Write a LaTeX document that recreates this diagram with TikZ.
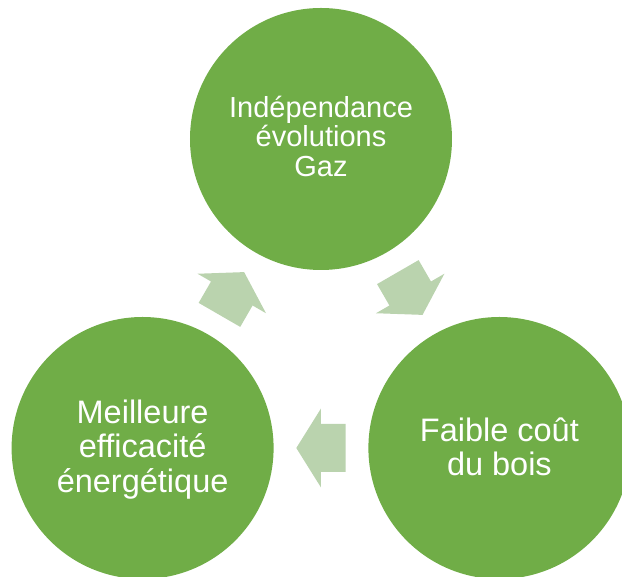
\documentclass[tikz,border=0pt]{standalone}
\usepackage{fontspec}
\setmainfont{Liberation Sans}
\usetikzlibrary{calc}
\definecolor{bubblegreen}{RGB}{112,173,71}
\definecolor{arrowgreen}{RGB}{186,211,174}
\tikzset{
  bubble/.style={circle, fill=bubblegreen, draw=none, minimum size=262pt, inner sep=0pt},
  toptext/.style={text=white, align=center, font=\fontsize{29}{29.5}\selectfont},
  lowtext/.style={text=white, align=center, font=\fontsize{32.5}{34.3}\selectfont},
  cyclearrow/.style={fill=arrowgreen, draw=none}
}
\begin{document}
\begin{tikzpicture}[x=1pt,y=1pt]
  \useasboundingbox (-321,-232) rectangle (301,345);
  \begin{scope}
    \clip (-321,-232) rectangle (301,345);
    \node[bubble] (top) at (90:206) {};
    \node[bubble] (left) at (210:206) {};
    \node[bubble] (right) at (-30:206) {};
  \end{scope}
  \node[toptext] (topT) at ([yshift=3]top.center) {Indépendance\\évolutions\\Gaz};
  \node[lowtext] (rightT) at ([yshift=1]right.center) {Faible coût\\du bois};
  \node[lowtext] (leftT) at ([yshift=-1.5]left.center) {Meilleure\\efficacité\\énergétique};
  % cycle arrows between the bubbles
  \foreach \a/\b/\ang in {top/right/-60, right/left/180, left/top/60}{
    \begin{scope}[shift={($(\a.center)!0.5!(\b.center)$)}, rotate=\ang]
      \fill[cyclearrow] (-24.7,-24) -- (0,-24) -- (0,-39.5) -- (24.7,0)
        -- (0,39.5) -- (0,24) -- (-24.7,24) -- cycle;
    \end{scope}
  }
\end{tikzpicture}
\end{document}
